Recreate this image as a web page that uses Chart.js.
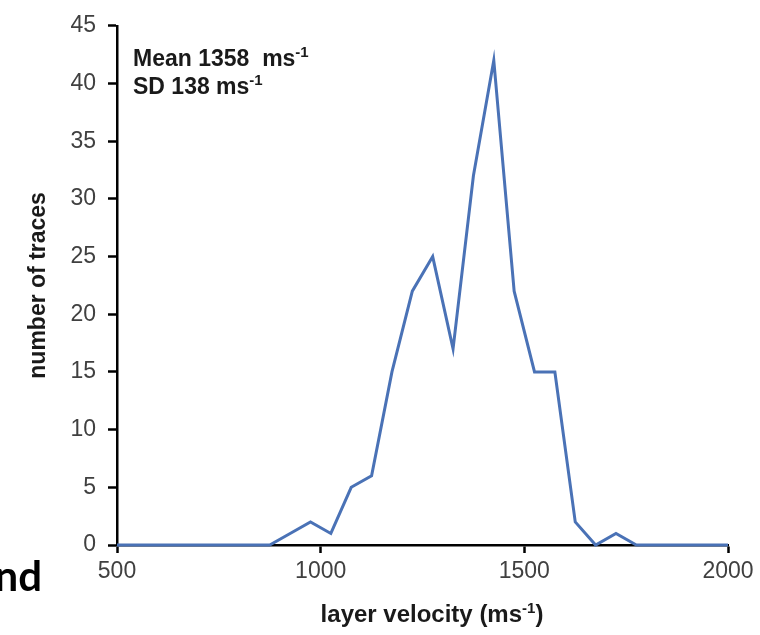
<!DOCTYPE html>
<html>
<head>
<meta charset="utf-8">
<script src="https://cdn.jsdelivr.net/npm/chart.js@4/dist/chart.umd.min.js"></script>
<style>
  html, body { margin: 0; padding: 0; background: #ffffff; }
  #wrap { width: 760px; height: 635px; }
</style>
</head>
<body>
<div id="wrap"><canvas id="c" width="760" height="635"></canvas></div>
<script>
// Histogram of layer velocities (bin centres, m/s) and trace counts per bin
const velocities = [500, 525, 575, 625, 675, 725, 775, 825, 875, 925, 975, 1025, 1075, 1125, 1175,
  1225, 1275, 1325, 1375, 1425, 1475, 1525, 1575, 1625, 1675, 1725, 1775, 1825, 1875, 1925, 1975, 2000];
const traceCounts = [0, 0, 0, 0, 0, 0, 0, 0, 0, 1, 2, 1, 5, 6, 15,
  22, 25, 17, 32, 42, 22, 15, 15, 2, 0, 1, 0, 0, 0, 0, 0, 0];

const xTicks = [500, 1000, 1500, 2000];
const yTicks = [0, 5, 10, 15, 20, 25, 30, 35, 40, 45];

const statsLines = [
  [{ t: 'Mean 1358  ms' }, { t: '-1', sup: true }],
  [{ t: 'SD 138 ms' }, { t: '-1', sup: true }]
];
const xTitle = [{ t: 'layer velocity (ms' }, { t: '-1', sup: true }, { t: ')' }];
const yTitle = 'number of traces';

const FAMILY = '"Liberation Sans", Arial, sans-serif';
const BOLD = 'bold 23px ' + FAMILY;
const TITLE = 'bold 24px ' + FAMILY;
const SUP = 'bold 15px ' + FAMILY;

function partsWidth(ctx, parts, main) {
  let w = 0;
  for (const p of parts) { ctx.font = p.sup ? SUP : main; w += ctx.measureText(p.t).width; }
  return w;
}
function drawParts(ctx, parts, x, y, main) {
  let cx = x;
  for (const p of parts) {
    ctx.font = p.sup ? SUP : main;
    ctx.fillText(p.t, cx, p.sup ? y - 9 : y);
    cx += ctx.measureText(p.t).width;
  }
}

const textPlugin = {
  id: 'textPlugin',
  afterDraw(chart) {
    const ctx = chart.ctx;
    const a = chart.chartArea;
    ctx.save();
    ctx.fillStyle = '#1a1a1a';
    ctx.textBaseline = 'alphabetic';
    ctx.textAlign = 'left';

    // statistics text in the upper left corner of the plot
    drawParts(ctx, statsLines[0], a.left + 16, a.top + 40, BOLD);
    drawParts(ctx, statsLines[1], a.left + 16, a.top + 68, BOLD);

    // x axis title
    const w = partsWidth(ctx, xTitle, TITLE);
    drawParts(ctx, xTitle, 432 - w / 2, 622, TITLE);

    // y axis title
    ctx.save();
    ctx.translate(45, (a.top + a.bottom) / 2);
    ctx.rotate(-Math.PI / 2);
    ctx.font = BOLD;
    ctx.textAlign = 'center';
    ctx.fillText(yTitle, 0, 0);
    ctx.restore();

    // caption fragment at the lower left edge
    ctx.fillStyle = '#000000';
    ctx.font = 'bold 42px Lato, "Open Sans", sans-serif';
    ctx.textAlign = 'right';
    ctx.fillText('nd', 42, 591);
    ctx.restore();
  }
};

const tickFont = { family: FAMILY, size: 23 };
const plainLabel = v => String(v);

new Chart(document.getElementById('c'), {
  type: 'line',
  data: {
    datasets: [{
      data: velocities.map((v, i) => ({ x: v, y: traceCounts[i] })),
      borderColor: '#4a72b6',
      borderWidth: 3,
      pointRadius: 0,
      tension: 0,
      fill: false,
      clip: false
    }]
  },
  options: {
    responsive: false,
    animation: false,
    devicePixelRatio: 1,
    layout: { padding: { top: 21, right: 32, left: 0, bottom: 0 } },
    plugins: { legend: { display: false }, tooltip: { enabled: false } },
    scales: {
      x: {
        type: 'linear',
        min: 500, max: 2000,
        afterBuildTicks: s => { s.ticks = xTicks.map(v => ({ value: v })); },
        afterFit: s => { s.height = 90; },
        ticks: { font: tickFont, color: '#404040', padding: 5, maxRotation: 0, callback: plainLabel },
        grid: { drawOnChartArea: false, drawTicks: true, tickLength: 8, tickColor: '#000', tickWidth: 2.5 },
        border: { color: '#000', width: 2.5 }
      },
      y: {
        min: 0, max: 45,
        afterBuildTicks: s => { s.ticks = yTicks.map(v => ({ value: v })); },
        afterFit: s => { s.width = 117; },
        ticks: { font: tickFont, color: '#404040', padding: 12, callback: plainLabel },
        grid: { drawOnChartArea: false, drawTicks: true, tickLength: 9, tickColor: '#000', tickWidth: 2.5 },
        border: { color: '#000', width: 2.5 }
      }
    }
  },
  plugins: [textPlugin]
});
</script>
</body>
</html>
